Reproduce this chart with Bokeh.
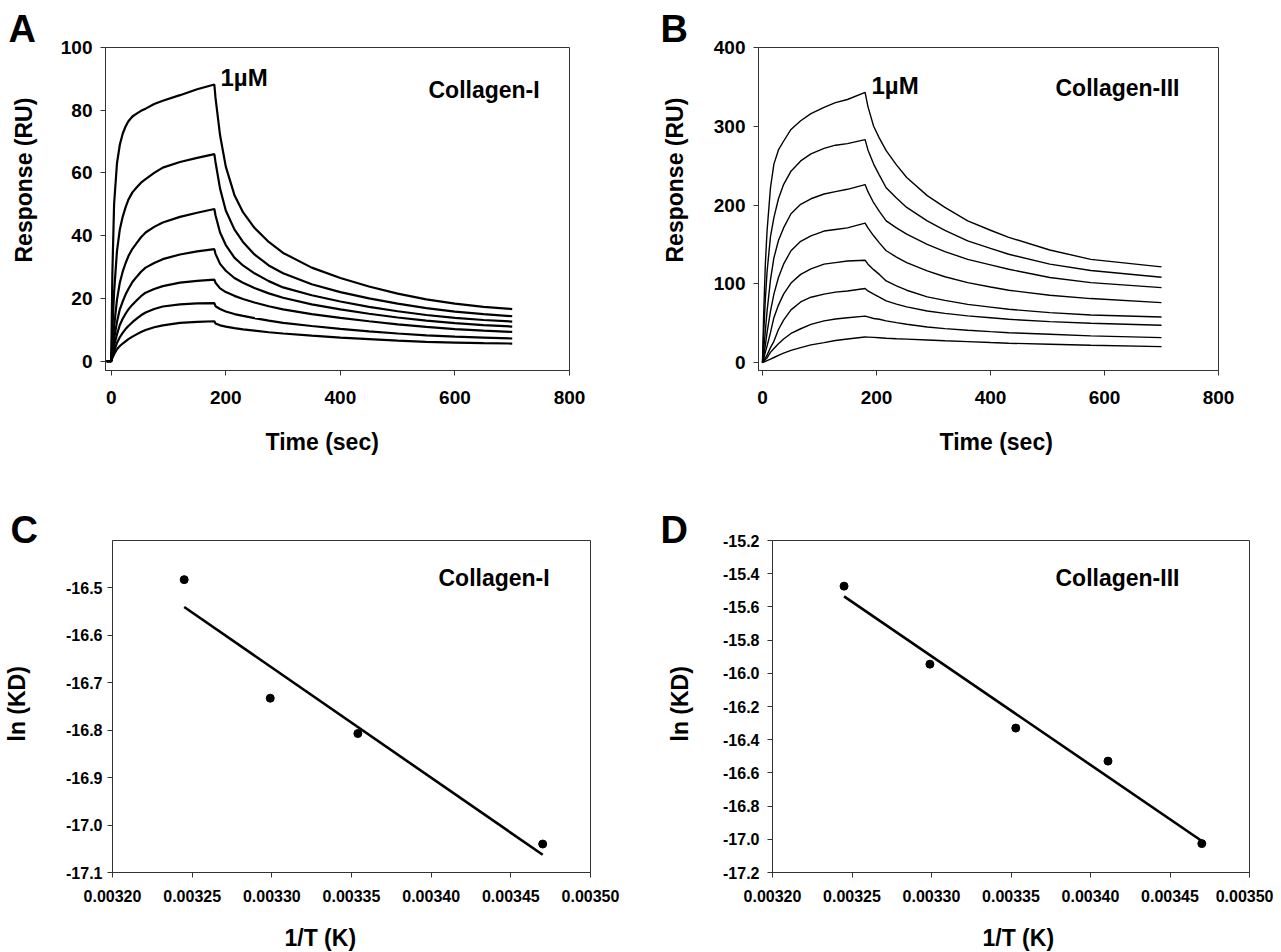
import numpy as np
from bokeh.plotting import figure
from bokeh.models import Label, Title, FixedTicker, PrintfTickFormatter, Range1d
from bokeh.layouts import row, column
from bokeh.embed import file_html
from bokeh.resources import INLINE

FONT = "Liberation Sans"

# ---------------- Panel A : Collagen-I sensorgrams (7 concentrations) ----------------
a_t_assoc = [-8, 0, 2, 5, 10, 15, 20, 25, 30, 37, 45, 52, 60, 75, 90, 120, 150, 180]
a_assoc = [
    [0, 0, 28, 50, 63, 69, 72.5, 74.8, 76.5, 78, 79, 79.8, 80.5, 82, 83, 84.8, 86.7, 88.2],
    [0, 0, 10, 22, 35, 42, 46, 49, 51.5, 53.8, 55.5, 56.9, 58, 60, 61.7, 63.5, 64.8, 66],
    [0, 0, 5, 11, 19.5, 25, 28.5, 31.2, 33.5, 35.8, 37.8, 39.5, 41, 42.8, 44.2, 46, 47.3, 48.5],
    [0, 0, 3, 7, 12.5, 16.5, 19, 21.2, 23, 25.2, 27, 28.5, 29.8, 31.3, 32.5, 34, 35, 35.7],
    [0, 0, 2, 5, 8.5, 11.5, 13.5, 15.1, 16.5, 18, 19.5, 20.7, 21.8, 23, 23.9, 25, 25.6, 26],
    [0, 0, 1.5, 3.2, 5.8, 7.6, 9, 10.2, 11.2, 12.4, 13.6, 14.6, 15.5, 16.6, 17.4, 18.1, 18.4, 18.5],
    [0, 0, 1, 2.2, 3.8, 4.8, 5.6, 6.3, 7, 7.8, 8.6, 9.3, 9.9, 10.8, 11.4, 12.2, 12.5, 12.7],
]
a_t_dissoc = [182, 190, 200, 215, 230, 250, 275, 300, 350, 400, 450, 500, 550, 600, 650, 700]
a_dissoc = [
    [84, 72, 62, 53, 47.5, 42.5, 38, 34.5, 29.8, 26.5, 23.8, 21.5, 19.7, 18.3, 17.3, 16.6],
    [63.5, 55, 48, 42, 38, 34, 30.5, 28, 24.5, 22, 20, 18.3, 16.9, 15.8, 15, 14.3],
    [46.5, 41, 37, 33, 30.5, 28, 25.5, 23.5, 21, 19, 17.3, 15.9, 14.7, 13.8, 13.1, 12.6],
    [34.2, 31, 28.8, 26.5, 25, 23.3, 21.6, 20.2, 18.1, 16.5, 15.1, 13.9, 12.9, 12.1, 11.5, 11],
    [25, 23.2, 22, 20.8, 19.8, 18.7, 17.5, 16.5, 15, 13.8, 12.7, 11.7, 10.9, 10.2, 9.7, 9.3],
    [17.5, 16.6, 15.8, 15, 14.4, 13.7, 12.9, 12.2, 11.2, 10.3, 9.5, 8.8, 8.2, 7.8, 7.5, 7.2],
    [12, 11.4, 11, 10.5, 10.1, 9.7, 9.2, 8.8, 8.1, 7.5, 7, 6.5, 6.1, 5.9, 5.7, 5.6],
]

# ---------------- Panel B : Collagen-III sensorgrams (8 concentrations) ----------------
b_t_assoc = [0, 2, 5, 8, 14, 20, 28, 37, 50, 67, 85, 108, 128, 149, 180]
b_assoc = [
    [0, 60, 125, 167, 222, 252, 270, 281, 296, 307, 316, 324, 330, 334, 343],
    [0, 35, 80, 115, 160, 184, 208, 226, 243, 256, 265, 272, 276, 278, 283],
    [0, 15, 40, 65, 105, 133, 155, 171, 189, 201, 208, 214, 217, 220, 226],
    [0, 8, 22, 38, 65, 87, 108, 125, 142, 154, 161, 167, 169, 171, 177],
    [0, 5, 13, 21, 38, 57, 73, 87, 101, 112, 119, 125, 127, 129, 130],
    [0, 2.5, 6, 9.5, 19, 27, 42, 54, 67, 77, 83, 87, 89.5, 91, 94],
    [0, 1.5, 4, 6, 13, 18, 24, 30, 37, 43, 48.5, 53, 55.3, 57, 59],
    [0, 0.6, 1.6, 2.6, 4.5, 6.5, 9.3, 12, 15.5, 19, 22.5, 25.4, 28, 30, 32.6],
]
b_t_dissoc = [185, 195, 205, 217, 235, 253, 289, 320, 360, 400, 432, 504, 576, 700]
b_dissoc = [
    [325, 300, 285, 269, 251, 235, 212, 197, 180, 168, 159, 143, 131, 121.5],
    [270, 252, 238, 222, 209, 197, 180, 168, 154.5, 145, 137.6, 125, 117, 108.4],
    [217, 203, 192, 180, 171, 163, 150, 141, 131, 124, 118.5, 108, 101.6, 95.2],
    [171, 161, 152, 142, 134, 127, 116.4, 109, 101.6, 96, 91.9, 85.5, 81.3, 76.2],
    [125, 118, 112, 103.7, 97.5, 91.9, 83.4, 79, 74, 70.5, 67.7, 63.5, 60.5, 58],
    [91, 87, 83, 78.3, 74.3, 70.7, 65.6, 62.5, 59.3, 57, 55, 52, 50, 47.4],
    [58, 56, 55, 53, 50.8, 48.7, 45.3, 43.2, 41, 39.3, 38, 36, 33.9, 31.7],
    [32.4, 32, 31.5, 30.9, 30.3, 29.8, 28.8, 27.8, 26.7, 25.5, 24.6, 23.3, 22, 20.3],
]

# ---------------- Panels C, D : van 't Hoff plots ----------------
c_inv_t = [0.003245, 0.003299, 0.003354, 0.003470]
c_ln_kd = [-16.4825, -16.7325, -16.807, -17.04]
d_inv_t = [0.003245, 0.003299, 0.003353, 0.003411, 0.003470]
d_ln_kd = [-15.475, -15.945, -16.33, -16.529, -17.026]

a_xticks = [0, 200, 400, 600, 800]
a_yticks = [0, 20, 40, 60, 80, 100]
b_yticks = [0, 100, 200, 300, 400]
cd_xticks = [0.00320, 0.00325, 0.00330, 0.00335, 0.00340, 0.00345, 0.00350]
c_yticks = [-17.1, -17.0, -16.9, -16.8, -16.7, -16.6, -16.5]
d_yticks = [-17.2, -17.0, -16.8, -16.6, -16.4, -16.2, -16.0, -15.8, -15.6, -15.4, -15.2]

FRAME = "#333333"


def make_fig(w, h, bl, br, bt, bb, xr, yr, xticks, yticks, tick_size, xstand, ystand):
    p = figure(width=w, height=h, x_range=Range1d(*xr), y_range=Range1d(*yr),
               output_backend="svg", toolbar_location=None, tools="",
               min_border_left=bl, min_border_right=br, min_border_top=bt, min_border_bottom=bb)
    p.grid.visible = False
    p.outline_line_color = FRAME
    p.outline_line_width = 1
    p.background_fill_color = "white"
    p.border_fill_color = "white"
    for ax, ticks, st in ((p.xaxis, xticks, xstand), (p.yaxis, yticks, ystand)):
        ax.ticker = FixedTicker(ticks=ticks)
        ax.minor_tick_line_color = None
        ax.major_tick_in = 0
        ax.major_tick_out = 5
        ax.major_tick_line_color = FRAME
        ax.axis_line_color = FRAME
        ax.major_label_text_font = FONT
        ax.major_label_text_font_style = "bold"
        ax.major_label_text_font_size = tick_size
        ax.major_label_text_color = "black"
        ax.major_label_standoff = st
        ax.axis_label_text_font_size = "1px"
    return p


def panel_texts(p, letter, letter_off, letter_stand, xlab, xoff, xgap, ylab, yoff, ygap):
    # panel letter
    p.title.text = letter
    p.title.align = "left"
    p.title.offset = letter_off
    p.title.standoff = letter_stand
    p.title.vertical_align = "bottom"
    p.title.text_font = FONT
    p.title.text_font_style = "bold"
    p.title.text_font_size = "38px"
    p.title.text_color = "black"
    # spacing between tick labels and axis titles
    p.xaxis.axis_label = " "
    p.xaxis.axis_label_standoff = xgap
    p.yaxis.axis_label = " "
    p.yaxis.axis_label_standoff = ygap
    p.add_layout(Title(text=xlab, align="left", offset=xoff, standoff=0, vertical_align="top",
                       text_font=FONT, text_font_style="bold", text_font_size="23px",
                       text_color="black"), "below")
    p.add_layout(Title(text=ylab, align="left", offset=yoff, standoff=0, vertical_align="bottom",
                       text_font=FONT, text_font_style="bold", text_font_size="23px",
                       text_color="black"), "left")


def add_text(p, txt, sx, sy, size):
    p.add_layout(Label(x=sx, y=sy, x_units="screen", y_units="screen", text=txt,
                       text_font=FONT, text_font_style="bold", text_font_size=size,
                       text_color="black", text_align="left", text_baseline="alphabetic"))


# Panel A
pA = make_fig(640, 470, 105, 71, 47, 100, (-10, 800), (-3, 100), a_xticks, a_yticks, "19px", 15, 8)
for ya, yd in zip(a_assoc, a_dissoc):
    pA.line(a_t_assoc + a_t_dissoc, ya + yd, line_color="black", line_width=2.2)
add_text(pA, "1µM", 115, 293, "24px")
add_text(pA, "Collagen-I", 323, 281, "23px")
panel_texts(pA, "A", -97, -4, "Time (sec)", 160, 18, "Response (RU)", 108, 17)

# Panel B
pB = make_fig(633, 470, 118, 55, 47, 100, (-7, 800), (-10, 400), a_xticks, b_yticks, "19px", 15, 8)
for ya, yd in zip(b_assoc, b_dissoc):
    pB.line(b_t_assoc + b_t_dissoc, ya + yd, line_color="black", line_width=1.4)
add_text(pB, "1µM", 113, 285, "24px")
add_text(pB, "Collagen-III", 297, 283, "23px")
panel_texts(pB, "B", -98, -4, "Time (sec)", 181, 18, "Response (RU)", 108, 19)

# Panel C
pC = make_fig(640, 482, 112, 50, 70, 78, (0.0032, 0.0035), (-17.1, -16.4), cd_xticks, c_yticks, "16px", 12, 5)
pC.xaxis.formatter = PrintfTickFormatter(format="%.5f")
pC.yaxis.formatter = PrintfTickFormatter(format="%.1f")
cs, ci = np.polyfit(c_inv_t, c_ln_kd, 1)
cx = [c_inv_t[0], c_inv_t[-1]]
pC.line(cx, [cs * v + ci for v in cx], line_color="black", line_width=2.6)
pC.scatter(c_inv_t, c_ln_kd, marker="circle", size=8, color="black")
add_text(pC, "Collagen-I", 326, 295, "23px")
panel_texts(pC, "C", -102, -20, "1/T (K)", 172, 16, "ln (KD)", 131, 29)

# Panel D
pD = make_fig(633, 482, 132, 24, 70, 78, (0.0032, 0.0035), (-17.2, -15.2), cd_xticks, d_yticks, "16px", 12, 8)
pD.xaxis.formatter = PrintfTickFormatter(format="%.5f")
pD.yaxis.formatter = PrintfTickFormatter(format="%.1f")
ds, di = np.polyfit(d_inv_t, d_ln_kd, 1)
dx = [d_inv_t[0], d_inv_t[-1]]
pD.line(dx, [ds * v + di for v in dx], line_color="black", line_width=2.6)
pD.scatter(d_inv_t, d_ln_kd, marker="circle", size=8, color="black")
add_text(pD, "Collagen-III", 283, 295, "23px")
panel_texts(pD, "D", -112, -20, "1/T (K)", 210, 16, "ln (KD)", 131, 23)

layout = column(row(pA, pB), row(pC, pD))
open("out.html", "w").write(file_html(layout, INLINE))
